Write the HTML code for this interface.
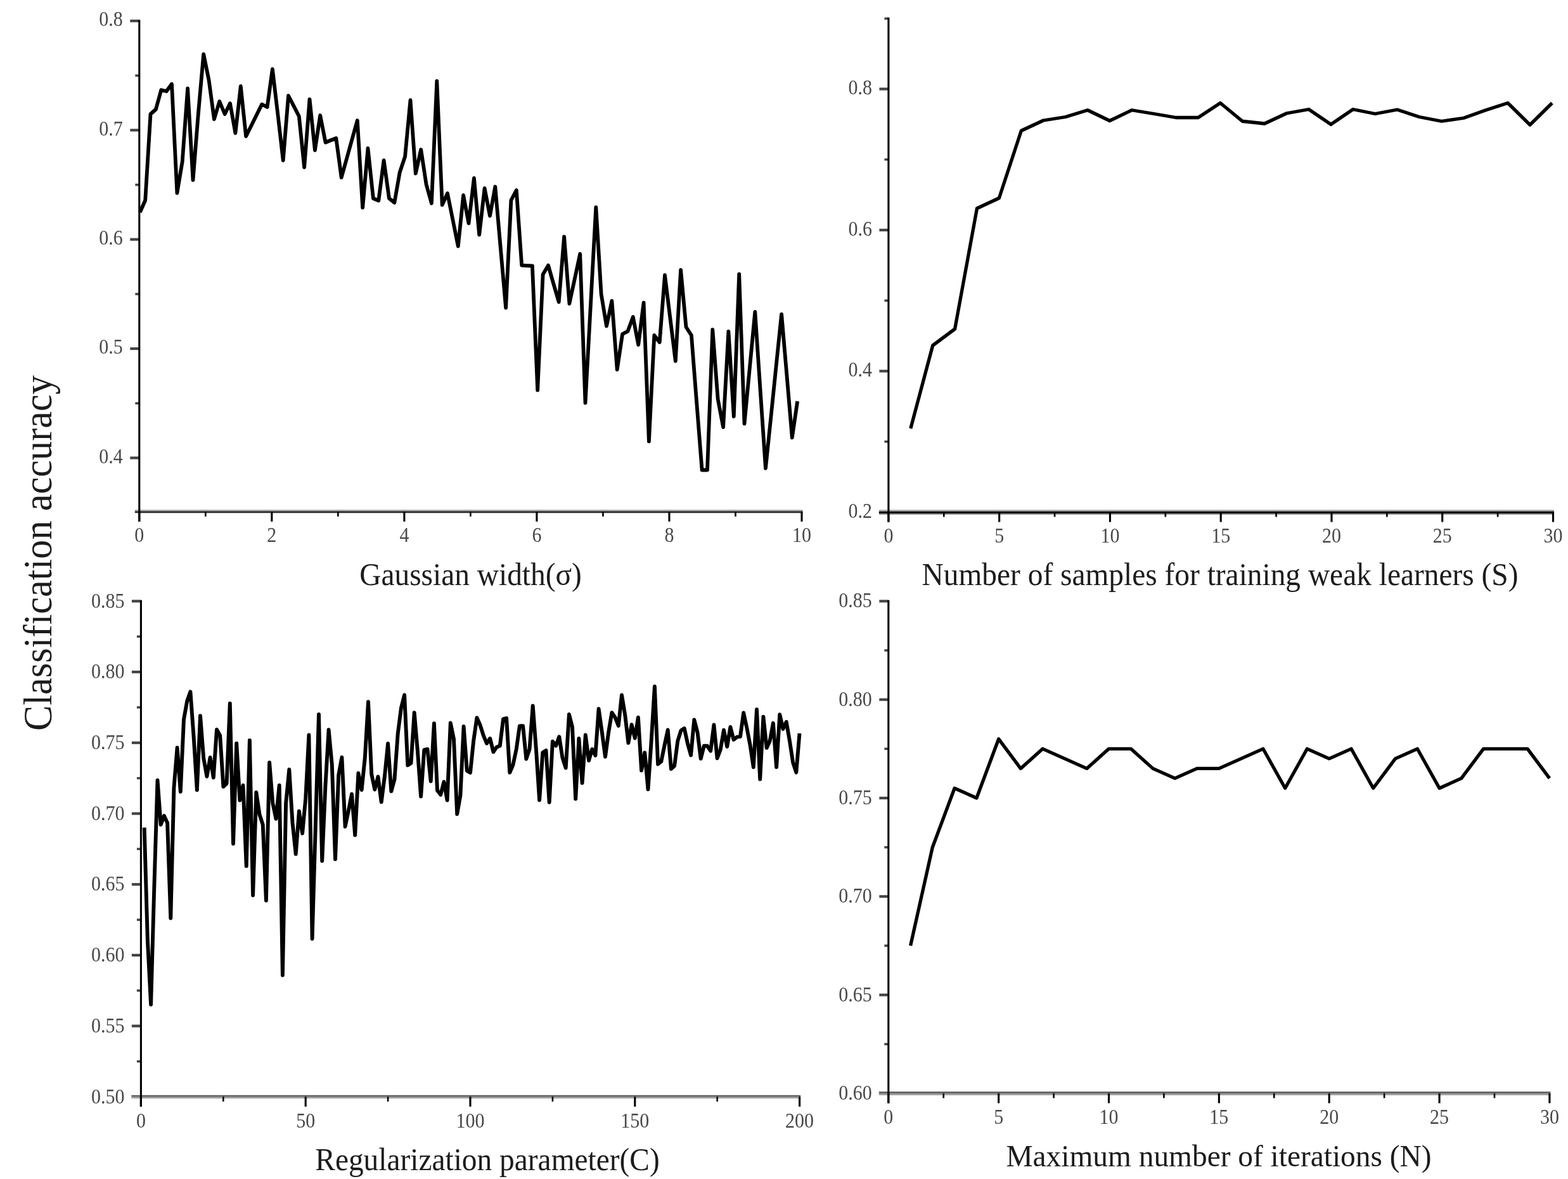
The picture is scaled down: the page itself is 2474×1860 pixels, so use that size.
<!DOCTYPE html>
<html lang="en">
<head>
<meta charset="utf-8">
<title>Classification accuracy vs. parameters</title>
<style>
html,body{margin:0;padding:0;background:#fff;}
body{width:2474px;height:1860px;overflow:hidden;}
svg{display:block;font-family:"Liberation Serif", serif;filter:blur(0.7px);}
</style>
</head>
<body>
<svg width="2474" height="1860" viewBox="0 0 2474 1860">
<rect width="2474" height="1860" fill="#fff"/>
<rect x="212.80" y="804.00" width="1053.75" height="2.30" fill="#b0b0b0"/>
<rect x="212.80" y="806.30" width="1053.75" height="3.00" fill="#2a2a2a"/>
<rect x="205.30" y="30.90" width="14.50" height="4.20" fill="#444"/>
<text transform="translate(193.80,41.40) scale(1,1.12)" font-size="30" text-anchor="end" fill="#484848">0.8</text>
<rect x="205.30" y="203.25" width="14.50" height="4.20" fill="#444"/>
<text transform="translate(193.80,213.75) scale(1,1.12)" font-size="30" text-anchor="end" fill="#484848">0.7</text>
<rect x="205.30" y="375.60" width="14.50" height="4.20" fill="#444"/>
<text transform="translate(193.80,386.10) scale(1,1.12)" font-size="30" text-anchor="end" fill="#484848">0.6</text>
<rect x="205.30" y="547.95" width="14.50" height="4.20" fill="#444"/>
<text transform="translate(193.80,558.45) scale(1,1.12)" font-size="30" text-anchor="end" fill="#484848">0.5</text>
<rect x="205.30" y="720.30" width="14.50" height="4.20" fill="#444"/>
<text transform="translate(193.80,730.80) scale(1,1.12)" font-size="30" text-anchor="end" fill="#484848">0.4</text>
<rect x="213.30" y="117.38" width="6.50" height="3.60" fill="#444"/>
<rect x="213.30" y="289.72" width="6.50" height="3.60" fill="#444"/>
<rect x="213.30" y="462.07" width="6.50" height="3.60" fill="#444"/>
<rect x="213.30" y="634.42" width="6.50" height="3.60" fill="#444"/>
<rect x="218.25" y="807.30" width="3.10" height="15.50" fill="#000"/>
<text transform="translate(219.80,855.30) scale(1,1.12)" font-size="30" text-anchor="middle" fill="#484848">0</text>
<rect x="427.29" y="807.30" width="3.10" height="15.50" fill="#000"/>
<text transform="translate(428.84,855.30) scale(1,1.12)" font-size="30" text-anchor="middle" fill="#484848">2</text>
<rect x="636.33" y="807.30" width="3.10" height="15.50" fill="#000"/>
<text transform="translate(637.88,855.30) scale(1,1.12)" font-size="30" text-anchor="middle" fill="#484848">4</text>
<rect x="845.37" y="807.30" width="3.10" height="15.50" fill="#000"/>
<text transform="translate(846.92,855.30) scale(1,1.12)" font-size="30" text-anchor="middle" fill="#484848">6</text>
<rect x="1054.41" y="807.30" width="3.10" height="15.50" fill="#000"/>
<text transform="translate(1055.96,855.30) scale(1,1.12)" font-size="30" text-anchor="middle" fill="#484848">8</text>
<rect x="1263.45" y="807.30" width="3.10" height="15.50" fill="#000"/>
<text transform="translate(1265.00,855.30) scale(1,1.12)" font-size="30" text-anchor="middle" fill="#484848">10</text>
<rect x="323.02" y="807.30" width="2.60" height="7.50" fill="#000"/>
<rect x="532.06" y="807.30" width="2.60" height="7.50" fill="#000"/>
<rect x="741.10" y="807.30" width="2.60" height="7.50" fill="#000"/>
<rect x="950.14" y="807.30" width="2.60" height="7.50" fill="#000"/>
<rect x="1159.18" y="807.30" width="2.60" height="7.50" fill="#000"/>
<rect x="218.25" y="31.40" width="3.10" height="791.40" fill="#000"/>
<rect x="1386.90" y="804.20" width="1065.15" height="2.50" fill="#aaaaaa"/>
<rect x="1386.90" y="806.70" width="1065.15" height="3.40" fill="#000000"/>
<rect x="1386.90" y="810.10" width="1065.15" height="1.80" fill="#888888"/>
<rect x="1387.40" y="138.30" width="14.50" height="4.20" fill="#444"/>
<text transform="translate(1375.90,149.30) scale(1,1.12)" font-size="30" text-anchor="end" fill="#484848">0.8</text>
<rect x="1387.40" y="360.83" width="14.50" height="4.20" fill="#444"/>
<text transform="translate(1375.90,371.83) scale(1,1.12)" font-size="30" text-anchor="end" fill="#484848">0.6</text>
<rect x="1387.40" y="583.37" width="14.50" height="4.20" fill="#444"/>
<text transform="translate(1375.90,594.37) scale(1,1.12)" font-size="30" text-anchor="end" fill="#484848">0.4</text>
<text transform="translate(1375.90,816.90) scale(1,1.12)" font-size="30" text-anchor="end" fill="#484848">0.2</text>
<rect x="1395.40" y="249.87" width="6.50" height="3.60" fill="#444"/>
<rect x="1395.40" y="472.40" width="6.50" height="3.60" fill="#444"/>
<rect x="1395.40" y="694.93" width="6.50" height="3.60" fill="#444"/>
<rect x="1395.40" y="27.50" width="6.50" height="3.60" fill="#444"/>
<rect x="1400.35" y="808.00" width="3.10" height="15.50" fill="#000"/>
<text transform="translate(1401.90,856.40) scale(1,1.12)" font-size="30" text-anchor="middle" fill="#484848">0</text>
<rect x="1575.12" y="808.00" width="3.10" height="15.50" fill="#000"/>
<text transform="translate(1576.67,856.40) scale(1,1.12)" font-size="30" text-anchor="middle" fill="#484848">5</text>
<rect x="1749.88" y="808.00" width="3.10" height="15.50" fill="#000"/>
<text transform="translate(1751.43,856.40) scale(1,1.12)" font-size="30" text-anchor="middle" fill="#484848">10</text>
<rect x="1924.65" y="808.00" width="3.10" height="15.50" fill="#000"/>
<text transform="translate(1926.20,856.40) scale(1,1.12)" font-size="30" text-anchor="middle" fill="#484848">15</text>
<rect x="2099.42" y="808.00" width="3.10" height="15.50" fill="#000"/>
<text transform="translate(2100.97,856.40) scale(1,1.12)" font-size="30" text-anchor="middle" fill="#484848">20</text>
<rect x="2274.18" y="808.00" width="3.10" height="15.50" fill="#000"/>
<text transform="translate(2275.73,856.40) scale(1,1.12)" font-size="30" text-anchor="middle" fill="#484848">25</text>
<rect x="2448.95" y="808.00" width="3.10" height="15.50" fill="#000"/>
<text transform="translate(2450.50,856.40) scale(1,1.12)" font-size="30" text-anchor="middle" fill="#484848">30</text>
<rect x="1487.98" y="808.00" width="2.60" height="7.50" fill="#000"/>
<rect x="1662.75" y="808.00" width="2.60" height="7.50" fill="#000"/>
<rect x="1837.52" y="808.00" width="2.60" height="7.50" fill="#000"/>
<rect x="2012.28" y="808.00" width="2.60" height="7.50" fill="#000"/>
<rect x="2187.05" y="808.00" width="2.60" height="7.50" fill="#000"/>
<rect x="2361.82" y="808.00" width="2.60" height="7.50" fill="#000"/>
<rect x="1400.35" y="27.70" width="3.10" height="795.80" fill="#000"/>
<rect x="207.40" y="1727.70" width="1055.75" height="2.80" fill="#5c5c5c"/>
<rect x="207.40" y="1730.50" width="1055.75" height="2.40" fill="#9a9a9a"/>
<rect x="207.90" y="946.30" width="14.50" height="4.20" fill="#444"/>
<text transform="translate(196.40,958.60) scale(1,1.12)" font-size="30" text-anchor="end" fill="#484848">0.85</text>
<rect x="207.90" y="1058.00" width="14.50" height="4.20" fill="#444"/>
<text transform="translate(196.40,1070.30) scale(1,1.12)" font-size="30" text-anchor="end" fill="#484848">0.80</text>
<rect x="207.90" y="1169.70" width="14.50" height="4.20" fill="#444"/>
<text transform="translate(196.40,1182.00) scale(1,1.12)" font-size="30" text-anchor="end" fill="#484848">0.75</text>
<rect x="207.90" y="1281.40" width="14.50" height="4.20" fill="#444"/>
<text transform="translate(196.40,1293.70) scale(1,1.12)" font-size="30" text-anchor="end" fill="#484848">0.70</text>
<rect x="207.90" y="1393.10" width="14.50" height="4.20" fill="#444"/>
<text transform="translate(196.40,1405.40) scale(1,1.12)" font-size="30" text-anchor="end" fill="#484848">0.65</text>
<rect x="207.90" y="1504.80" width="14.50" height="4.20" fill="#444"/>
<text transform="translate(196.40,1517.10) scale(1,1.12)" font-size="30" text-anchor="end" fill="#484848">0.60</text>
<rect x="207.90" y="1616.50" width="14.50" height="4.20" fill="#444"/>
<text transform="translate(196.40,1628.80) scale(1,1.12)" font-size="30" text-anchor="end" fill="#484848">0.55</text>
<text transform="translate(196.40,1740.50) scale(1,1.12)" font-size="30" text-anchor="end" fill="#484848">0.50</text>
<rect x="215.90" y="1002.45" width="6.50" height="3.60" fill="#444"/>
<rect x="215.90" y="1114.15" width="6.50" height="3.60" fill="#444"/>
<rect x="215.90" y="1225.85" width="6.50" height="3.60" fill="#444"/>
<rect x="215.90" y="1337.55" width="6.50" height="3.60" fill="#444"/>
<rect x="215.90" y="1449.25" width="6.50" height="3.60" fill="#444"/>
<rect x="215.90" y="1560.95" width="6.50" height="3.60" fill="#444"/>
<rect x="215.90" y="1672.65" width="6.50" height="3.60" fill="#444"/>
<rect x="220.85" y="1730.30" width="3.10" height="15.50" fill="#000"/>
<text transform="translate(222.40,1778.60) scale(1,1.12)" font-size="30" text-anchor="middle" fill="#484848">0</text>
<rect x="480.65" y="1730.30" width="3.10" height="15.50" fill="#000"/>
<text transform="translate(482.20,1778.60) scale(1,1.12)" font-size="30" text-anchor="middle" fill="#484848">50</text>
<rect x="740.45" y="1730.30" width="3.10" height="15.50" fill="#000"/>
<text transform="translate(742.00,1778.60) scale(1,1.12)" font-size="30" text-anchor="middle" fill="#484848">100</text>
<rect x="1000.25" y="1730.30" width="3.10" height="15.50" fill="#000"/>
<text transform="translate(1001.80,1778.60) scale(1,1.12)" font-size="30" text-anchor="middle" fill="#484848">150</text>
<rect x="1260.05" y="1730.30" width="3.10" height="15.50" fill="#000"/>
<text transform="translate(1261.60,1778.60) scale(1,1.12)" font-size="30" text-anchor="middle" fill="#484848">200</text>
<rect x="351.00" y="1730.30" width="2.60" height="7.50" fill="#000"/>
<rect x="610.80" y="1730.30" width="2.60" height="7.50" fill="#000"/>
<rect x="870.60" y="1730.30" width="2.60" height="7.50" fill="#000"/>
<rect x="1130.40" y="1730.30" width="2.60" height="7.50" fill="#000"/>
<rect x="220.85" y="946.80" width="3.10" height="799.00" fill="#000"/>
<rect x="1386.80" y="1722.10" width="1059.65" height="2.80" fill="#5c5c5c"/>
<rect x="1386.80" y="1724.90" width="1059.65" height="2.90" fill="#9a9a9a"/>
<rect x="1387.30" y="946.30" width="14.50" height="4.20" fill="#444"/>
<text transform="translate(1375.80,958.40) scale(1,1.12)" font-size="30" text-anchor="end" fill="#484848">0.85</text>
<rect x="1387.30" y="1101.60" width="14.50" height="4.20" fill="#444"/>
<text transform="translate(1375.80,1113.70) scale(1,1.12)" font-size="30" text-anchor="end" fill="#484848">0.80</text>
<rect x="1387.30" y="1256.90" width="14.50" height="4.20" fill="#444"/>
<text transform="translate(1375.80,1269.00) scale(1,1.12)" font-size="30" text-anchor="end" fill="#484848">0.75</text>
<rect x="1387.30" y="1412.20" width="14.50" height="4.20" fill="#444"/>
<text transform="translate(1375.80,1424.30) scale(1,1.12)" font-size="30" text-anchor="end" fill="#484848">0.70</text>
<rect x="1387.30" y="1567.50" width="14.50" height="4.20" fill="#444"/>
<text transform="translate(1375.80,1579.60) scale(1,1.12)" font-size="30" text-anchor="end" fill="#484848">0.65</text>
<text transform="translate(1375.80,1734.90) scale(1,1.12)" font-size="30" text-anchor="end" fill="#484848">0.60</text>
<rect x="1395.30" y="1024.25" width="6.50" height="3.60" fill="#444"/>
<rect x="1395.30" y="1179.55" width="6.50" height="3.60" fill="#444"/>
<rect x="1395.30" y="1334.85" width="6.50" height="3.60" fill="#444"/>
<rect x="1395.30" y="1490.15" width="6.50" height="3.60" fill="#444"/>
<rect x="1395.30" y="1645.45" width="6.50" height="3.60" fill="#444"/>
<rect x="1400.25" y="1724.90" width="3.10" height="15.50" fill="#000"/>
<text transform="translate(1401.80,1773.30) scale(1,1.12)" font-size="30" text-anchor="middle" fill="#484848">0</text>
<rect x="1574.10" y="1724.90" width="3.10" height="15.50" fill="#000"/>
<text transform="translate(1575.65,1773.30) scale(1,1.12)" font-size="30" text-anchor="middle" fill="#484848">5</text>
<rect x="1747.95" y="1724.90" width="3.10" height="15.50" fill="#000"/>
<text transform="translate(1749.50,1773.30) scale(1,1.12)" font-size="30" text-anchor="middle" fill="#484848">10</text>
<rect x="1921.80" y="1724.90" width="3.10" height="15.50" fill="#000"/>
<text transform="translate(1923.35,1773.30) scale(1,1.12)" font-size="30" text-anchor="middle" fill="#484848">15</text>
<rect x="2095.65" y="1724.90" width="3.10" height="15.50" fill="#000"/>
<text transform="translate(2097.20,1773.30) scale(1,1.12)" font-size="30" text-anchor="middle" fill="#484848">20</text>
<rect x="2269.50" y="1724.90" width="3.10" height="15.50" fill="#000"/>
<text transform="translate(2271.05,1773.30) scale(1,1.12)" font-size="30" text-anchor="middle" fill="#484848">25</text>
<rect x="2443.35" y="1724.90" width="3.10" height="15.50" fill="#000"/>
<text transform="translate(2444.90,1773.30) scale(1,1.12)" font-size="30" text-anchor="middle" fill="#484848">30</text>
<rect x="1487.42" y="1724.90" width="2.60" height="7.50" fill="#000"/>
<rect x="1661.28" y="1724.90" width="2.60" height="7.50" fill="#000"/>
<rect x="1835.12" y="1724.90" width="2.60" height="7.50" fill="#000"/>
<rect x="2008.97" y="1724.90" width="2.60" height="7.50" fill="#000"/>
<rect x="2182.82" y="1724.90" width="2.60" height="7.50" fill="#000"/>
<rect x="2356.68" y="1724.90" width="2.60" height="7.50" fill="#000"/>
<rect x="1400.25" y="946.80" width="3.10" height="793.60" fill="#000"/>
<text transform="translate(742.50,923.00) scale(1,1.07)" font-size="47.4" text-anchor="middle" fill="#1c1c1c">Gaussian width(σ)</text>
<text transform="translate(1925.00,923.00) scale(1,1.07)" font-size="47.4" text-anchor="middle" fill="#1c1c1c">Number of samples for training weak learners (S)</text>
<text transform="translate(769.00,1846.30) scale(1,1.07)" font-size="47.4" text-anchor="middle" fill="#1c1c1c">Regularization parameter(C)</text>
<text transform="translate(1923.00,1839.70) scale(1,1.02)" font-size="47.4" text-anchor="middle" fill="#1c1c1c">Maximum number of iterations (N)</text>
<text transform="translate(81.00,872.50) rotate(-90) scale(1,1.06)" font-size="60.3" text-anchor="middle" fill="#1c1c1c">Classification accuracy</text>
<polyline points="220.8,335 229.2,316 237.5,180 245.9,172.5 254.3,142 262.6,144 271,132.5 279.4,304.5 287.7,255 296.1,139.5 304.5,284 312.8,180 321.2,85.4 329.6,126.6 337.9,188 346.3,160 354.7,180 363,163 371.4,210 379.8,136 388.1,215 396.5,198.2 404.9,181.3 413.2,164.5 421.6,169 429.9,109 438.3,180 446.7,253 455,151 463.4,167.2 471.8,183.5 480.1,264 488.5,156.6 496.9,237 505.2,182 513.6,224.7 522,221.3 530.3,218 538.7,280 547.1,250 555.4,220 563.8,190 572.2,327.5 580.5,234 588.9,313 597.3,316.5 605.6,253 614,313 622.4,319.6 630.7,272 639.1,247 647.5,158 655.8,273.7 664.2,236 672.6,291 680.9,320.7 689.3,128 697.7,323.4 706,305 714.4,346.8 722.8,388.5 731.1,308 739.5,352.3 747.9,281 756.2,370.4 764.6,297 773,340.6 781.3,294.5 789.7,390 798.1,485.5 806.4,316 814.8,300 823.2,418.6 831.5,419.1 839.9,419.5 848.2,615.7 856.6,433 865,418.6 873.3,447.6 881.7,476.5 890.1,373.4 898.4,479 906.8,439.8 915.2,400.5 923.5,635.7 931.9,481.4 940.3,327 948.6,464 957,514.5 965.4,474.7 973.7,583 982.1,527 990.5,522.6 998.8,500 1007.2,544 1015.6,477.4 1023.9,696.3 1032.3,529 1040.7,540 1049,434 1057.4,501.9 1065.8,569.7 1074.1,425.8 1082.5,516 1090.9,529 1099.2,635.2 1107.6,741.5 1116,741.5 1124.3,520 1132.7,630 1141.1,674 1149.4,523 1157.8,657 1166.2,432.5 1174.5,668.5 1182.9,580.2 1191.3,492 1199.6,615.4 1208,738.8 1216.4,657.7 1224.7,576.7 1233.1,495.6 1241.5,593 1249.8,690.4 1258.2,633" fill="none" stroke="#000" stroke-width="5.8" stroke-linejoin="round" stroke-linecap="butt"/>
<polyline points="1436.8,676 1471.7,545 1506.6,519 1541.5,328.75 1576.4,312.5 1611.3,206.25 1646.2,190 1681.1,184.5 1716,173.75 1750.9,190.5 1785.8,173.75 1820.7,179.5 1855.6,185.5 1890.5,185.5 1925.4,162.5 1960.3,191.25 1995.2,195 2030.1,178.75 2065,172.5 2099.9,196.25 2134.8,172.5 2169.7,179.5 2204.6,173 2239.5,184.5 2274.4,191.25 2309.3,186.25 2344.2,173.75 2379.1,162.5 2414,197 2448.9,162.5" fill="none" stroke="#000" stroke-width="5.3" stroke-linejoin="round" stroke-linecap="butt"/>
<polyline points="227.7,1305.6 232.9,1484 238.1,1584.7 243.3,1400 248.5,1231 253.7,1301 258.9,1287 264.1,1298.3 269.3,1448.5 274.4,1243 279.6,1179.5 284.8,1249 290,1135 295.2,1106 300.4,1091.3 305.6,1162 310.8,1246.3 316,1129.3 321.2,1196 326.4,1225 331.6,1195 336.8,1226.7 342,1151 347.2,1160.5 352.4,1241 357.6,1236 362.8,1109.6 368,1331 373.2,1172.7 378.4,1262.6 383.5,1239 388.7,1366.3 393.9,1168 399.1,1412.5 404.3,1250 409.5,1285 414.7,1301 419.9,1420.6 425.1,1203 430.3,1267 435.5,1291.8 440.7,1239 445.9,1538.5 451.1,1267 456.3,1214 461.5,1298 466.7,1347.4 471.9,1279.8 477.1,1314.8 482.2,1260 487.4,1159.5 492.6,1481 497.8,1304 503,1127 508.2,1358.2 513.4,1240 518.6,1151.3 523.8,1206.5 529,1355.5 534.2,1222.8 539.4,1194.7 544.6,1304 549.8,1279.3 555,1252.7 560.2,1317.5 565.4,1219.8 570.6,1246.3 575.8,1195.6 581,1107.3 586.2,1221.4 591.3,1245.6 596.5,1225.3 601.7,1265.3 606.9,1225 612.1,1173 617.3,1248.4 622.5,1229.5 627.7,1157.7 632.9,1117 638.1,1096.4 643.3,1207.4 648.5,1204 653.7,1124.2 658.9,1184.8 664.1,1256.5 669.3,1183 674.5,1182 679.7,1232.5 684.9,1141.2 690,1247 695.2,1253.8 700.4,1233.4 705.6,1262.6 710.8,1140.5 716,1165.8 721.2,1284.3 726.4,1255 731.6,1145.9 736.8,1216 742,1219 747.2,1168.5 752.4,1132.3 757.6,1144 762.8,1160.4 768,1172.8 773.2,1165 778.4,1186.3 783.6,1178.7 788.8,1176.6 794,1134.4 799.1,1133 804.3,1218.9 809.5,1206.5 814.7,1182 819.9,1145.2 825.1,1145.2 830.3,1197.2 835.5,1182 840.7,1113.4 845.9,1182 851.1,1262.3 856.3,1187.3 861.5,1183.9 866.7,1265.7 871.9,1169.6 877.1,1176.6 882.3,1162.2 887.5,1195.6 892.7,1211.5 897.9,1126.9 903,1146.8 908.2,1260.3 913.4,1164.9 918.6,1235.2 923.8,1159.5 929,1199.9 934.2,1181.9 939.4,1191.8 944.6,1118.1 949.8,1155 955,1193.8 960.2,1155 965.4,1124.2 970.6,1131.9 975.8,1145 981,1096.4 986.2,1127.8 991.4,1172.1 996.6,1143.2 1001.8,1164.6 1006.9,1131.7 1012.1,1215.5 1017.3,1187.3 1022.5,1245.2 1027.7,1168.5 1032.9,1083 1038.1,1205.5 1043.3,1201.4 1048.5,1175.6 1053.7,1151.5 1058.9,1213 1064.1,1208.4 1069.3,1168.8 1074.5,1152.4 1079.7,1149 1084.9,1172.9 1090.1,1191.4 1095.3,1135.4 1100.5,1155.3 1105.7,1196.9 1110.8,1176.8 1116,1176.8 1121.2,1184.7 1126.4,1143.5 1131.6,1196.2 1136.8,1182.4 1142,1151.7 1147.2,1177.9 1152.4,1146.9 1157.6,1167 1162.8,1162.7 1168,1162 1173.2,1124.5 1178.4,1148.5 1183.6,1175.6 1188.8,1210.4 1194,1119.1 1199.2,1229.4 1204.4,1130.7 1209.6,1179.9 1214.7,1168.8 1219.9,1140.8 1225.1,1210.4 1230.3,1127.3 1235.5,1150 1240.7,1138.8 1245.9,1168.8 1251.1,1202.8 1256.3,1218.6 1261.5,1157" fill="none" stroke="#000" stroke-width="5.9" stroke-linejoin="round" stroke-linecap="butt"/>
<polyline points="1436.6,1491.9 1471.3,1336.7 1506.1,1243.5 1540.9,1259 1575.7,1165.8 1610.4,1212.4 1645.2,1181.3 1680,1196.9 1714.7,1212.4 1749.5,1181.3 1784.3,1181.3 1819,1212.4 1853.8,1227.9 1888.6,1212.4 1923.3,1212.4 1958.1,1196.9 1992.9,1181.3 2027.7,1243.5 2062.4,1181.3 2097.2,1196.9 2132,1181.3 2166.7,1243.5 2201.5,1196.9 2236.3,1181.3 2271.1,1243.5 2305.8,1227.9 2340.6,1181.3 2375.4,1181.3 2410.1,1181.3 2444.9,1227.9" fill="none" stroke="#000" stroke-width="5.3" stroke-linejoin="round" stroke-linecap="butt"/>
</svg>
</body>
</html>
